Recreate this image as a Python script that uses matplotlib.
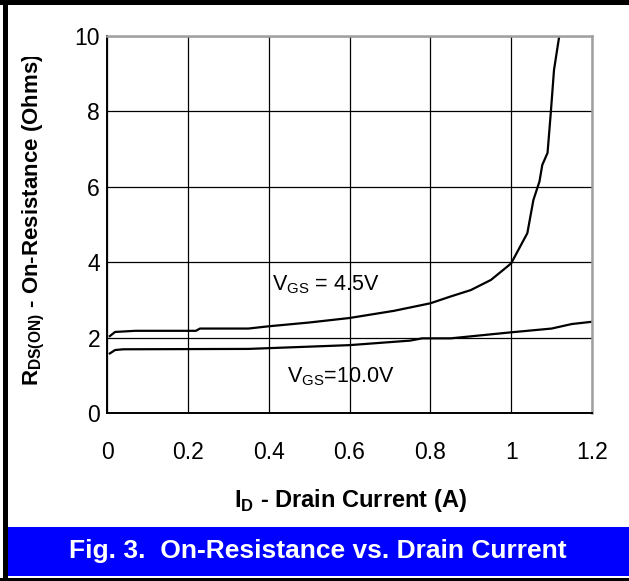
import numpy as np
import matplotlib
matplotlib.use("Agg")
import matplotlib.pyplot as plt
from matplotlib.patches import Rectangle
from matplotlib.transforms import Bbox

plt.rcParams['font.family'] = ['Liberation Sans', 'DejaVu Sans']
plt.rcParams['mathtext.fontset'] = 'custom'
plt.rcParams['mathtext.rm'] = 'Liberation Sans'
plt.rcParams['mathtext.bf'] = 'Liberation Sans:bold'

# datos
id_45 = [0.007, 0.02, 0.07, 0.22, 0.23, 0.35, 0.4, 0.5, 0.6, 0.71, 0.8, 0.85,
         0.9, 0.95, 0.99, 1.0, 1.04, 1.055, 1.07, 1.077, 1.09, 1.098, 1.106, 1.119]
r_45 = [2.04, 2.15, 2.18, 2.18, 2.24, 2.24, 2.3, 2.4, 2.52, 2.71, 2.91, 3.09,
        3.26, 3.53, 3.88, 3.97, 4.77, 5.65, 6.14, 6.58, 6.9, 7.96, 9.1, 10.0]

id_10 = [0.007, 0.02, 0.04, 0.35, 0.6, 0.75, 0.78, 0.85, 1.0, 1.1, 1.15, 1.2]
r_10 = [1.58, 1.67, 1.69, 1.70, 1.80, 1.92, 1.98, 1.98, 2.14, 2.24, 2.36, 2.42]

xticks = [0, 0.2, 0.4, 0.6, 0.8, 1.0, 1.2]
xticklabels = ['0', '0.2', '0.4', '0.6', '0.8', '1', '1.2']
yticks = [0, 2, 4, 6, 8, 10]

W, H = 629, 581
fig = plt.figure(figsize=(W/100, H/100), dpi=100)
ax = fig.add_axes([107/W, 1-413/H, 485/W, 377/H])

ax.plot(id_45, r_45, color='black', lw=1.6)
ax.plot(id_10, r_10, color='black', lw=1.6)

ax.set_xlim(0, 1.2)
ax.set_ylim(0, 10)
ax.set_xticks(xticks)
ax.set_xticklabels(xticklabels)
ax.set_yticks(yticks)
ax.grid(True, color='black', lw=0.9)
ax.tick_params(axis='both', length=0, labelsize=16.5)
ax.tick_params(axis='x', pad=20)
ax.tick_params(axis='y', pad=5)
for s in ['top', 'right']:
    ax.spines[s].set_color('#a0a0a0')
    ax.spines[s].set_linewidth(1.8)
for s in ['left', 'bottom']:
    ax.spines[s].set_color('black')
    ax.spines[s].set_linewidth(1.4)

ax.text(0.408, 3.24, r'V$_{\mathregular{GS}}$ = 4.5V', fontsize=15.5, va='baseline')
ax.text(0.445, 0.80, r'V$_{\mathregular{GS}}$=10.0V', fontsize=15.5, va='baseline')

fig.text(350/W, 1-500/H, r'I$_{\mathbf{D}}$ - Drain Current (A)', fontsize=17,
         fontweight='bold', ha='center', va='center')
yl = fig.text(34/W, 1-220/H, r'R$_{\mathbf{DS(ON)}}$ - On-Resistance (Ohms)', fontsize=16,
              fontweight='bold', ha='center', va='center', rotation=90)
# en la original el parentesis final queda cortado
yl.set_clip_box(Bbox.from_extents(0, 0, W, H - 57))
yl.set_clip_on(True)

# barra azul y marco
fig.patches.append(Rectangle((8/W, 1-576/H), 1-8/W, 49/H, transform=fig.transFigure,
                             facecolor='#0000ff', edgecolor='none'))
fig.text(318/W, 1-551/H, 'Fig. 3.  On-Resistance vs. Drain Current', fontsize=19,
         fontweight='bold', color='white', ha='center', va='center')
fig.patches.append(Rectangle((3/W, 0), 4.5/W, 1, transform=fig.transFigure,
                             facecolor='black', edgecolor='none'))
fig.patches.append(Rectangle((0, 1-5/H), 1, 5/H, transform=fig.transFigure,
                             facecolor='black', edgecolor='none'))
fig.patches.append(Rectangle((0, 0), 1, 3.5/H, transform=fig.transFigure,
                             facecolor='black', edgecolor='none'))

fig.savefig('out.png', dpi=100)
